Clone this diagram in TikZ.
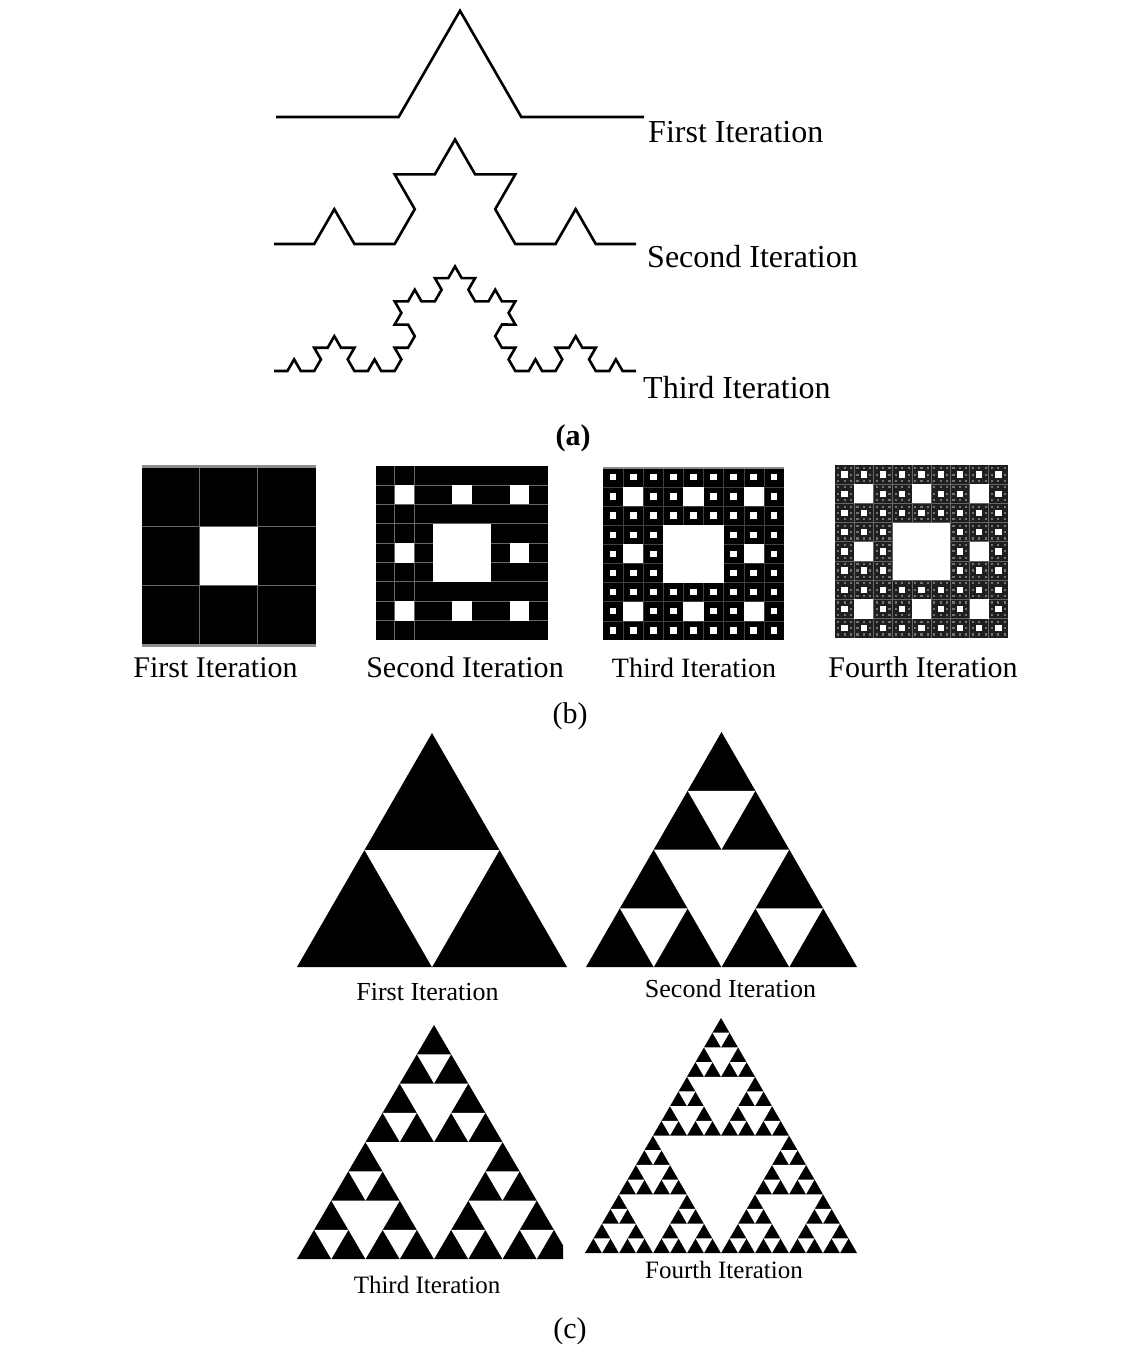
\documentclass[tikz,border=0pt]{standalone}
\usepackage{fontspec}
\setmainfont{Liberation Serif}
\usetikzlibrary{decorations.fractals}
\tikzset{
  koch/.style={line width=2.6pt, line join=miter, decoration=Koch snowflake},
  lblA/.style={font=\fontsize{32}{38}\selectfont, anchor=base west, inner sep=0pt},
  lblB/.style={font=\fontsize{30}{36}\selectfont, anchor=base, inner sep=0pt},
  lblC/.style={font=\fontsize{26}{31}\selectfont, anchor=base, inner sep=0pt},
  capt/.style={font=\fontsize{30}{36}\selectfont, anchor=base, inner sep=0pt},
  gridln/.style={draw=black!60, line width=1pt},
}
% holes of one level k of a Sierpinski carpet in the unit square, colour #2
\newcommand\carpetlevel[2]{%
    \pgfmathtruncatemacro\cn{3^(#1-1)}%
    \pgfmathsetmacro\cc{1/\cn}%
    \pgfmathtruncatemacro\cnm{\cn-1}%
    \foreach \ci in {0,...,\cnm}{%
      \foreach \cj in {0,...,\cnm}{%
        \fill[#2] ({\ci*\cc+\cc/3},{\cj*\cc+\cc/3}) rectangle +({\cc/3},{\cc/3});
      }}}
\newcommand\mysierp[1]{%
  \fill[black] (0,0) -- (1,0) -- (0.5,1) -- cycle;
  \foreach \k in {1,...,#1}{%
    \pgfmathtruncatemacro\sm{2^(\k-1)}%
    \pgfmathsetmacro\ss{1/\sm}%
    \pgfmathtruncatemacro\smm{\sm-1}%
    \foreach \sr in {0,...,\smm}{%
      \pgfmathtruncatemacro\simax{\smm-\sr}%
      \foreach \si in {0,...,\simax}{%
        \pgfmathsetmacro\xo{\si*\ss+\sr*\ss/2}%
        \pgfmathsetmacro\yo{\sr*\ss}%
        \fill[white] ({\xo+\ss/4},{\yo+\ss/2}) -- ({\xo+3*\ss/4},{\yo+\ss/2}) -- ({\xo+\ss/2},{\yo}) -- cycle;
      }}}}
\begin{document}
\begin{tikzpicture}[x=1pt,y=-1pt]
\useasboundingbox[fill=white] (0,0) rectangle (1142,1372);

% ---------- (a) Koch curves ----------
\draw[koch] decorate{ (276,117) -- (644,117) };
\draw[koch] decorate{ decorate{ (274,244) -- (636,244) } };
\draw[koch] decorate{ decorate{ decorate{ (274,371) -- (636,371) } } };
\node[lblA] (ka) at (648,143) {First Iteration};
\node[lblA] (kb) at (647,267) {Second Iteration};
\node[lblA] (kc) at (643,398) {Third Iteration};
\node[capt, font=\fontsize{30}{36}\selectfont\bfseries] (capa) at (573,445) {(a)};

% ---------- (b) Sierpinski carpets ----------
\begin{scope}[shift={(141.7,468)}, x=174.3pt, y=-176pt]
  \fill[black] (0,0) rectangle (1,1);
  \foreach \g in {1,2}{\draw[gridln] (\g/3,0) -- (\g/3,1); \draw[gridln] (0,\g/3) -- (1,\g/3);}
  \carpetlevel{1}{white}
  \draw[black!45, line width=3pt] (0,-0.01) -- (1,-0.01);
  \draw[black!45, line width=3pt] (0,1.01) -- (1,1.01);
\end{scope}
\begin{scope}[shift={(375.7,465.7)}, x=172.6pt, y=-174.3pt]
  \fill[black] (0,0) rectangle (1,1);
  \foreach \g in {1,...,8}{\draw[gridln] (0,\g/9) -- (1,\g/9);}
  \foreach \g in {1,2}{\draw[gridln] (\g/9,0) -- (\g/9,1);}
  \carpetlevel{1}{white}
  \carpetlevel{2}{white}
\end{scope}
\begin{scope}[shift={(603,467.7)}, x=181pt, y=-172.3pt]
  \fill[black] (0,0) rectangle (1,1);
  \foreach \g in {1,...,8}{\draw[black!75, line width=0.5pt] (0,\g/9) -- (1,\g/9); \draw[black!75, line width=0.5pt] (\g/9,0) -- (\g/9,1);}
  \carpetlevel{1}{white}
  \carpetlevel{2}{white}
  \carpetlevel{3}{white}
  \draw[black!45, line width=2pt] (0,0) -- (1,0);
\end{scope}
\begin{scope}[shift={(835,465)}, x=173pt, y=-172.7pt]
  \fill[black!88] (0,0) rectangle (1,1);
  \foreach \g in {1,...,8}{\draw[black!60, line width=0.6pt] (0,\g/9) -- (1,\g/9); \draw[black!60, line width=0.6pt] (\g/9,0) -- (\g/9,1);}
  \carpetlevel{4}{black!55}
  \carpetlevel{1}{white}
  \carpetlevel{2}{white}
  \carpetlevel{3}{white}
\end{scope}
\node[lblB] (ca) at (215.5,677) {First Iteration};
\node[lblB] (cb) at (465,677) {Second Iteration};
\node[lblB, font=\fontsize{28}{34}\selectfont] (cc) at (694,677) {Third Iteration};
\node[lblB] (cd) at (923,677) {Fourth Iteration};
\node[capt] (capb) at (570,723) {(b)};

% ---------- (c) Sierpinski triangles ----------
\begin{scope}[shift={(297,967)}, x=270pt, y=234pt]
  \mysierp{1}
\end{scope}
\begin{scope}[shift={(586,967)}, x=271pt, y=235pt]
  \mysierp{2}
\end{scope}
\begin{scope}
  \clip (250,1000) rectangle (563,1270);
  \begin{scope}[shift={(297,1259)}, x=274pt, y=234pt]
    \mysierp{3}
  \end{scope}
\end{scope}
\begin{scope}[shift={(585,1253)}, x=272pt, y=235pt]
  \mysierp{4}
\end{scope}
\node[lblC] (ta) at (427.5,1000) {First Iteration};
\node[lblC] (tb) at (730.5,997) {Second Iteration};
\node[lblC, font=\fontsize{25}{30}\selectfont] (tc) at (427,1293) {Third Iteration};
\node[lblC, font=\fontsize{25}{30}\selectfont] (td) at (724,1278) {Fourth Iteration};
\node[capt] (capc) at (570,1338) {(c)};
\end{tikzpicture}
\end{document}
